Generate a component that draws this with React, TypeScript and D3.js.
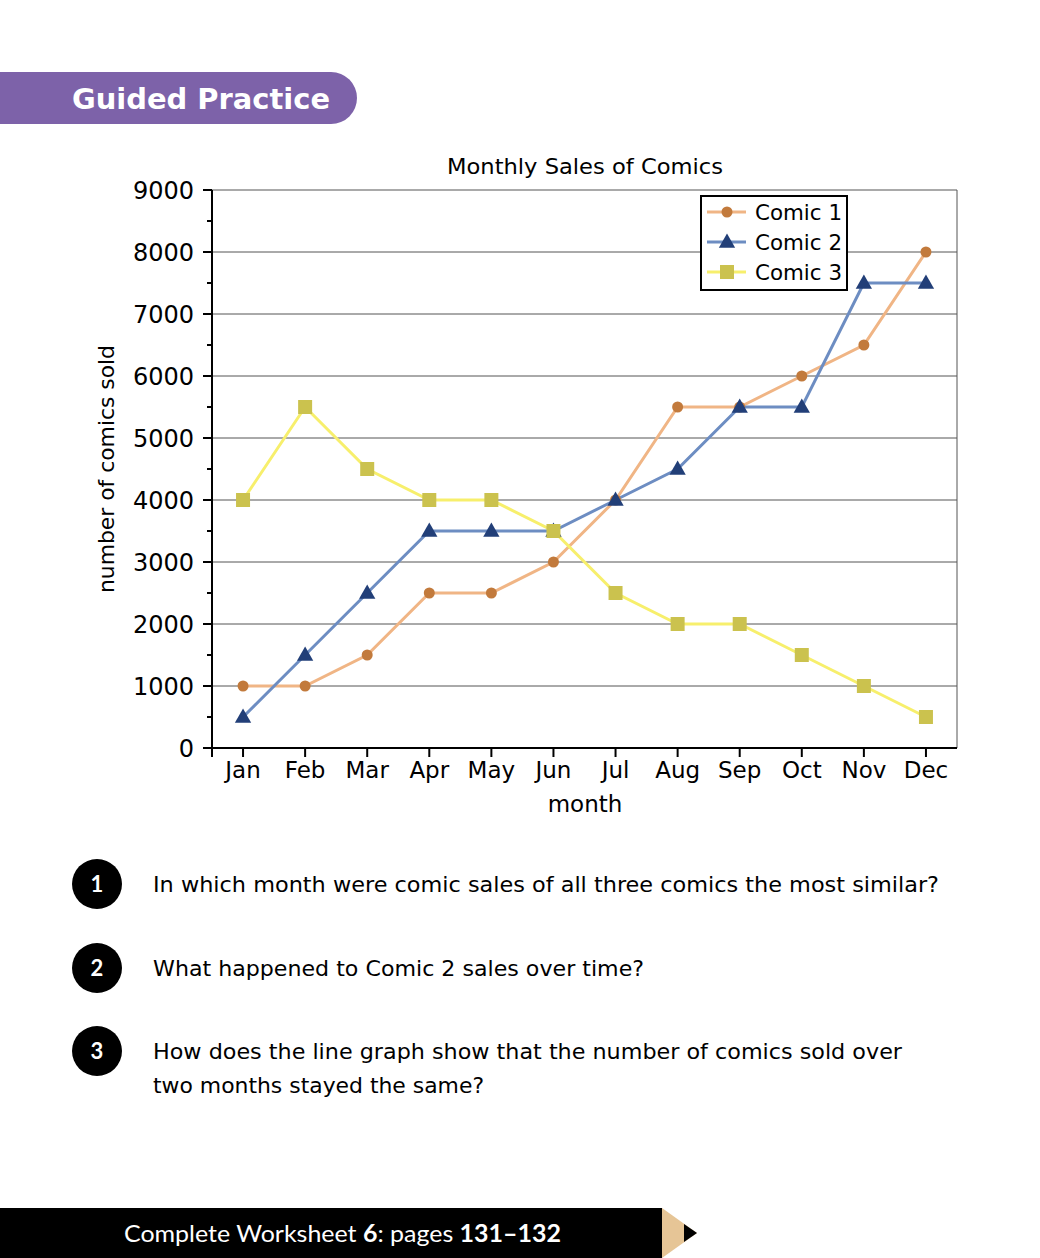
import React from "react";
import * as d3 from "d3";

const months = ["Jan", "Feb", "Mar", "Apr", "May", "Jun", "Jul", "Aug", "Sep", "Oct", "Nov", "Dec"];
const comic1 = [1000, 1000, 1500, 2500, 2500, 3000, 4000, 5500, 5500, 6000, 6500, 8000];
const comic2 = [500, 1500, 2500, 3500, 3500, 3500, 4000, 4500, 5500, 5500, 7500, 7500];
const comic3 = [4000, 5500, 4500, 4000, 4000, 3500, 2500, 2000, 2000, 1500, 1000, 500];
const yTicks = [0, 1000, 2000, 3000, 4000, 5000, 6000, 7000, 8000, 9000];
const seriesNames = ["Comic 1", "Comic 2", "Comic 3"];
const questions = [
  ["In which month were comic sales of all three comics the most similar?"],
  ["What happened to Comic 2 sales over time?"],
  ["How does the line graph show that the number of comics sold over", "two months stayed the same?"],
];
const questionWidths = [[786], [491], [749, 331]];

const FONT = "'DejaVu Sans', 'Noto Sans', sans-serif";
const FONT2 = "Lato, 'Noto Sans', sans-serif";

export default function App() {
  const L = 212, R = 957, T = 190, B = 748;
  const x = d3.scaleBand<string>().domain(months).range([L, R]);
  const cx = (m: string) => (x(m) as number) + x.bandwidth() / 2;
  const y = d3.scaleLinear().domain([0, 9000]).range([B, T]);
  const minor = d3.range(500, 9000, 1000);

  const series = [
    { name: seriesNames[0], data: comic1, line: "#f0b585", mark: "#c27a3c", shape: "circle" },
    { name: seriesNames[1], data: comic2, line: "#6d8dc2", mark: "#223f78", shape: "triangle" },
    { name: seriesNames[2], data: comic3, line: "#f7ef6c", mark: "#cbc24e", shape: "square" },
  ];

  const lineGen = d3.line<number>().x((_, i) => cx(months[i])).y((v) => y(v));

  const marker = (shape: string, px: number, py: number, color: string, key: string) => {
    if (shape === "circle") return <circle key={key} cx={px} cy={py} r={5.5} fill={color} />;
    if (shape === "triangle") {
      const p = d3.symbol().type(d3.symbolTriangle).size(115)();
      return <path key={key} d={p as string} transform={`translate(${px},${py + 1})`} fill={color} />;
    }
    return <rect key={key} x={px - 7} y={py - 7} width={14} height={14} fill={color} />;
  };

  const qY = [884, 968, 1051];

  return (
    <svg width={1040} height={1258} style={{ display: "block", position: "absolute", left: 0, top: 0 }}>
      <rect width={1040} height={1258} fill="#fff" />
      {/* banner */}
      <path d="M0,72 H331 A26,26 0 0 1 331,124 H0 Z" fill="#7d62a9" />
      <text x={72} y={109} fill="#fff" fontFamily={FONT} fontWeight={700} fontSize={28} textLength={258} lengthAdjust="spacingAndGlyphs">Guided Practice</text>

      {/* title */}
      <text x={447} y={174} fontFamily={FONT} fontSize={21} textLength={276} lengthAdjust="spacingAndGlyphs">Monthly Sales of Comics</text>

      {/* gridlines */}
      {yTicks.map((t) => (
        <line key={"g" + t} x1={L} x2={R} y1={y(t)} y2={y(t)} stroke="#555" strokeWidth={1} />
      ))}
      <line x1={R} x2={R} y1={T} y2={B} stroke="#555" strokeWidth={1} />
      {/* axes */}
      <line x1={L} x2={L} y1={T} y2={B + 9} stroke="#000" strokeWidth={2} />
      <line x1={L} x2={R} y1={B} y2={B} stroke="#000" strokeWidth={2} />
      {yTicks.map((t) => (
        <g key={"yt" + t}>
          <line x1={L - 9} x2={L} y1={y(t)} y2={y(t)} stroke="#000" strokeWidth={2} />
          <text x={L - 18} y={y(t) + 9} textAnchor="end" fontFamily={FONT} fontSize={24}>{t}</text>
        </g>
      ))}
      {minor.map((t) => (
        <line key={"m" + t} x1={L - 5} x2={L} y1={y(t)} y2={y(t)} stroke="#000" strokeWidth={2} />
      ))}
      {months.map((m) => (
        <g key={"xt" + m}>
          <line x1={cx(m)} x2={cx(m)} y1={B} y2={B + 9} stroke="#000" strokeWidth={2} />
          <text x={cx(m)} y={B + 30} textAnchor="middle" fontFamily={FONT} fontSize={23}>{m}</text>
        </g>
      ))}
      <text x={585} y={812} textAnchor="middle" fontFamily={FONT} fontSize={23}>month</text>
      <text transform={`translate(114,${(T + B) / 2 + 0}) rotate(-90)`} x={-124} fontFamily={FONT} fontSize={21} textLength={248} lengthAdjust="spacingAndGlyphs">number of comics sold</text>

      {/* lines */}
      {series.map((s) => (
        <path key={"l" + s.name} d={lineGen(s.data) as string} fill="none" stroke={s.line} strokeWidth={3} />
      ))}
      {series.map((s) => s.data.map((v, i) => marker(s.shape, cx(months[i]), y(v), s.mark, s.name + i)))}

      {/* legend */}
      <rect x={701} y={196} width={146} height={94} fill="#fff" stroke="#000" strokeWidth={2} />
      {series.map((s, i) => {
        const ly = 212 + i * 30;
        return (
          <g key={"lg" + s.name}>
            <line x1={707} x2={746} y1={ly} y2={ly} stroke={s.line} strokeWidth={3} />
            {marker(s.shape, 727, ly, s.mark, "lm" + i)}
            <text x={755} y={ly + 8} fontFamily={FONT} fontSize={22} textLength={87} lengthAdjust="spacingAndGlyphs">{s.name}</text>
          </g>
        );
      })}

      {/* questions */}
      {questions.map((q, i) => (
        <g key={"q" + i}>
          <circle cx={97} cy={qY[i]} r={25} fill="#000" />
          <text x={97} y={qY[i] + 8} textAnchor="middle" fill="#fff" fontFamily={FONT2} fontWeight={700} fontSize={22}>{i + 1}</text>
          {q.map((line, j) => (
            <text key={j} x={153} y={qY[i] + 8 + j * 34} fontFamily={FONT} fontSize={22} textLength={questionWidths[i][j]} lengthAdjust="spacingAndGlyphs">{line}</text>
          ))}
        </g>
      ))}

      {/* footer */}
      <rect x={0} y={1208} width={662} height={50} fill="#000" />
      <path d="M662,1208 L697,1233 L662,1258 Z" fill="#e6c596" />
      <path d="M684,1224 L697,1233 L684,1242 Z" fill="#000" />
      <text x={124} y={1242} fill="#fff" fontFamily={FONT2} fontSize={24} textLength={437} lengthAdjust="spacingAndGlyphs">
        Complete Worksheet <tspan fontWeight={700}>6</tspan>: pages <tspan fontWeight={700}>131–132</tspan>
      </text>
    </svg>
  );
}
